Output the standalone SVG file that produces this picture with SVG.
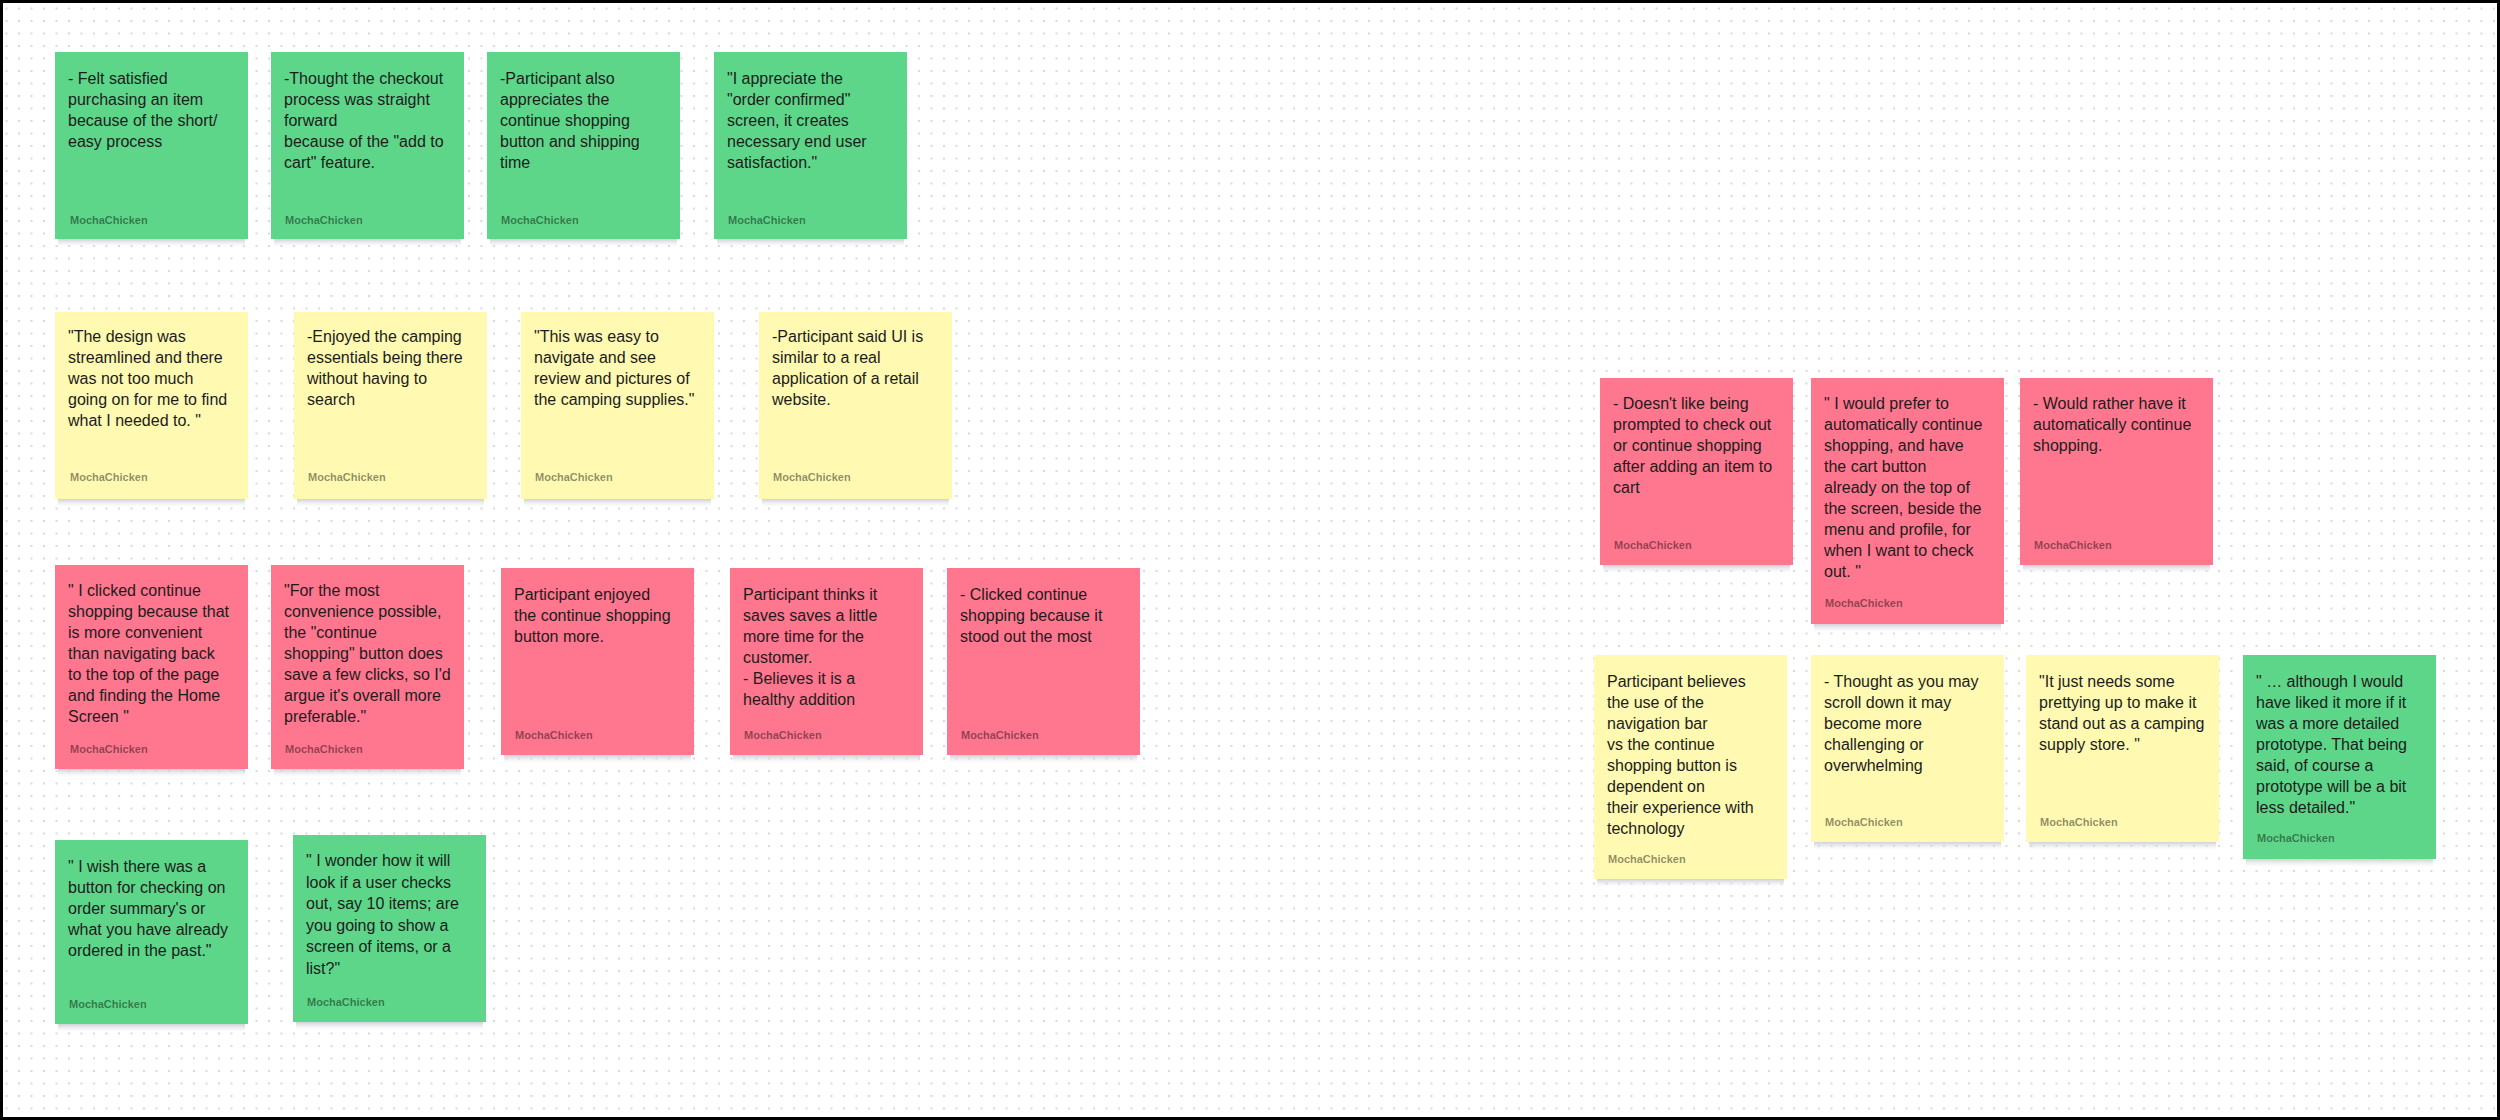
<svg xmlns="http://www.w3.org/2000/svg" width="2500" height="1120" viewBox="0 0 2500 1120">
<defs>
<pattern id="dots" x="5.5" y="7.5" width="12.5" height="12.5" patternUnits="userSpaceOnUse">
<rect x="0" y="0" width="2" height="2" fill="#d5d8df"/>
</pattern>
<linearGradient id="sh" x1="0" y1="0" x2="0" y2="1">
<stop offset="0" stop-color="#c9ccd3" stop-opacity="0.9"/>
<stop offset="1" stop-color="#e9ebef" stop-opacity="0"/>
</linearGradient>
</defs>
<style>
.g{fill:#5dd689}
.y{fill:#fff9b1}
.p{fill:#ff768f}
.sh{fill:url(#sh)}
.t{font-family:"Liberation Sans",Arial,sans-serif;font-size:16px;fill:#1c1c1c}
.l{font-family:"Liberation Sans",Arial,sans-serif;font-size:11px;font-weight:bold;fill:#000;fill-opacity:0.45}
</style>
<rect x="0" y="0" width="2500" height="1120" fill="#ffffff"/>
<rect x="0" y="0" width="2500" height="1120" fill="url(#dots)"/>
<rect x="1.5" y="1.5" width="2497" height="1117" fill="none" stroke="#000" stroke-width="3"/>
<g id="connectors"/>

<g id="n1"><rect class="sh" x="58" y="239" width="187" height="8"/><rect class="g" x="55" y="52" width="193" height="187"/>
<text class="t" x="68" y="84"><tspan x="68">- Felt satisfied</tspan><tspan x="68" dy="21">purchasing an item</tspan><tspan x="68" dy="21">because of the short/</tspan><tspan x="68" dy="21">easy process</tspan></text>
<text class="l" x="70" y="224">MochaChicken</text></g>

<g id="n2"><rect class="sh" x="274" y="239" width="187" height="8"/><rect class="g" x="271" y="52" width="193" height="187"/>
<text class="t" x="284" y="84"><tspan x="284">-Thought the checkout</tspan><tspan x="284" dy="21">process was straight</tspan><tspan x="284" dy="21">forward</tspan><tspan x="284" dy="21">because of the "add to</tspan><tspan x="284" dy="21">cart" feature.</tspan></text>
<text class="l" x="285" y="224">MochaChicken</text></g>

<g id="n3"><rect class="sh" x="490" y="239" width="187" height="8"/><rect class="g" x="487" y="52" width="193" height="187"/>
<text class="t" x="500" y="84"><tspan x="500">-Participant also</tspan><tspan x="500" dy="21">appreciates the</tspan><tspan x="500" dy="21">continue shopping</tspan><tspan x="500" dy="21">button and shipping</tspan><tspan x="500" dy="21">time</tspan></text>
<text class="l" x="501" y="224">MochaChicken</text></g>

<g id="n4"><rect class="sh" x="717" y="239" width="187" height="8"/><rect class="g" x="714" y="52" width="193" height="187"/>
<text class="t" x="727" y="84"><tspan x="727">"I appreciate the</tspan><tspan x="727" dy="21">"order confirmed"</tspan><tspan x="727" dy="21">screen, it creates</tspan><tspan x="727" dy="21">necessary end user</tspan><tspan x="727" dy="21">satisfaction."</tspan></text>
<text class="l" x="728" y="224">MochaChicken</text></g>

<g id="n5"><rect class="sh" x="58" y="499" width="187" height="8"/><rect class="y" x="55" y="312" width="193" height="187"/>
<text class="t" x="68" y="342"><tspan x="68">"The design was</tspan><tspan x="68" dy="21">streamlined and there</tspan><tspan x="68" dy="21">was not too much</tspan><tspan x="68" dy="21">going on for me to find</tspan><tspan x="68" dy="21">what I needed to. "</tspan></text>
<text class="l" x="70" y="481">MochaChicken</text></g>

<g id="n6"><rect class="sh" x="297" y="499" width="187" height="8"/><rect class="y" x="294" y="312" width="193" height="187"/>
<text class="t" x="307" y="342"><tspan x="307">-Enjoyed the camping</tspan><tspan x="307" dy="21">essentials being there</tspan><tspan x="307" dy="21">without having to</tspan><tspan x="307" dy="21">search</tspan></text>
<text class="l" x="308" y="481">MochaChicken</text></g>

<g id="n7"><rect class="sh" x="524" y="499" width="187" height="8"/><rect class="y" x="521" y="312" width="193" height="187"/>
<text class="t" x="534" y="342"><tspan x="534">"This was easy to</tspan><tspan x="534" dy="21">navigate and see</tspan><tspan x="534" dy="21">review and pictures of</tspan><tspan x="534" dy="21">the camping supplies."</tspan></text>
<text class="l" x="535" y="481">MochaChicken</text></g>

<g id="n8"><rect class="sh" x="762" y="499" width="187" height="8"/><rect class="y" x="759" y="312" width="193" height="187"/>
<text class="t" x="772" y="342"><tspan x="772">-Participant said UI is</tspan><tspan x="772" dy="21">similar to a real</tspan><tspan x="772" dy="21">application of a retail</tspan><tspan x="772" dy="21">website.</tspan></text>
<text class="l" x="773" y="481">MochaChicken</text></g>

<g id="n9"><rect class="sh" x="58" y="769" width="187" height="8"/><rect class="p" x="55" y="565" width="193" height="204"/>
<text class="t" x="68" y="596"><tspan x="68">" I clicked continue</tspan><tspan x="68" dy="21">shopping because that</tspan><tspan x="68" dy="21">is more convenient</tspan><tspan x="68" dy="21">than navigating back</tspan><tspan x="68" dy="21">to the top of the page</tspan><tspan x="68" dy="21">and finding the Home</tspan><tspan x="68" dy="21">Screen "</tspan></text>
<text class="l" x="70" y="753">MochaChicken</text></g>

<g id="n10"><rect class="sh" x="274" y="769" width="187" height="8"/><rect class="p" x="271" y="565" width="193" height="204"/>
<text class="t" x="284" y="596"><tspan x="284">"For the most</tspan><tspan x="284" dy="21">convenience possible,</tspan><tspan x="284" dy="21">the "continue</tspan><tspan x="284" dy="21">shopping" button does</tspan><tspan x="284" dy="21">save a few clicks, so I'd</tspan><tspan x="284" dy="21">argue it's overall more</tspan><tspan x="284" dy="21">preferable."</tspan></text>
<text class="l" x="285" y="753">MochaChicken</text></g>

<g id="n11"><rect class="sh" x="504" y="755" width="187" height="8"/><rect class="p" x="501" y="568" width="193" height="187"/>
<text class="t" x="514" y="600"><tspan x="514">Participant enjoyed</tspan><tspan x="514" dy="21">the continue shopping</tspan><tspan x="514" dy="21">button more.</tspan></text>
<text class="l" x="515" y="739">MochaChicken</text></g>

<g id="n12"><rect class="sh" x="733" y="755" width="187" height="8"/><rect class="p" x="730" y="568" width="193" height="187"/>
<text class="t" x="743" y="600"><tspan x="743">Participant thinks it</tspan><tspan x="743" dy="21">saves saves a little</tspan><tspan x="743" dy="21">more time for the</tspan><tspan x="743" dy="21">customer.</tspan><tspan x="743" dy="21">- Believes it is a</tspan><tspan x="743" dy="21">healthy addition</tspan></text>
<text class="l" x="744" y="739">MochaChicken</text></g>

<g id="n13"><rect class="sh" x="950" y="755" width="187" height="8"/><rect class="p" x="947" y="568" width="193" height="187"/>
<text class="t" x="960" y="600"><tspan x="960">- Clicked continue</tspan><tspan x="960" dy="21">shopping because it</tspan><tspan x="960" dy="21">stood out the most</tspan></text>
<text class="l" x="961" y="739">MochaChicken</text></g>

<g id="n14"><rect class="sh" x="58" y="1024" width="187" height="8"/><rect class="g" x="55" y="840" width="193" height="184"/>
<text class="t" x="68" y="872"><tspan x="68">" I wish there was a</tspan><tspan x="68" dy="21">button for checking on</tspan><tspan x="68" dy="21">order summary's or</tspan><tspan x="68" dy="21">what you have already</tspan><tspan x="68" dy="21">ordered in the past."</tspan></text>
<text class="l" x="69" y="1008">MochaChicken</text></g>

<g id="n15"><rect class="sh" x="296" y="1022" width="187" height="8"/><rect class="g" x="293" y="835" width="193" height="187"/>
<text class="t" x="306" y="866"><tspan x="306">" I wonder how it will</tspan><tspan x="306" dy="21.5">look if a user checks</tspan><tspan x="306" dy="21.5">out, say 10 items; are</tspan><tspan x="306" dy="21.5">you going to show a</tspan><tspan x="306" dy="21.5">screen of items, or a</tspan><tspan x="306" dy="21.5">list?"</tspan></text>
<text class="l" x="307" y="1006">MochaChicken</text></g>

<g id="r1"><rect class="sh" x="1603" y="565" width="187" height="8"/><rect class="p" x="1600" y="378" width="193" height="187"/>
<text class="t" x="1613" y="409"><tspan x="1613">- Doesn't like being</tspan><tspan x="1613" dy="21">prompted to check out</tspan><tspan x="1613" dy="21">or continue shopping</tspan><tspan x="1613" dy="21">after adding an item to</tspan><tspan x="1613" dy="21">cart</tspan></text>
<text class="l" x="1614" y="549">MochaChicken</text></g>

<g id="r2"><rect class="sh" x="1814" y="624" width="187" height="8"/><rect class="p" x="1811" y="378" width="193" height="246"/>
<text class="t" x="1824" y="409"><tspan x="1824">" I would prefer to</tspan><tspan x="1824" dy="21">automatically continue</tspan><tspan x="1824" dy="21">shopping, and have</tspan><tspan x="1824" dy="21">the cart button</tspan><tspan x="1824" dy="21">already on the top of</tspan><tspan x="1824" dy="21">the screen, beside the</tspan><tspan x="1824" dy="21">menu and profile, for</tspan><tspan x="1824" dy="21">when I want to check</tspan><tspan x="1824" dy="21">out. "</tspan></text>
<text class="l" x="1825" y="607">MochaChicken</text></g>

<g id="r3"><rect class="sh" x="2023" y="565" width="187" height="8"/><rect class="p" x="2020" y="378" width="193" height="187"/>
<text class="t" x="2033" y="409"><tspan x="2033">- Would rather have it</tspan><tspan x="2033" dy="21">automatically continue</tspan><tspan x="2033" dy="21">shopping.</tspan></text>
<text class="l" x="2034" y="549">MochaChicken</text></g>

<g id="y1"><rect class="sh" x="1597" y="879" width="187" height="8"/><rect class="y" x="1594" y="655" width="193" height="224"/>
<text class="t" x="1607" y="687"><tspan x="1607">Participant believes</tspan><tspan x="1607" dy="21">the use of the</tspan><tspan x="1607" dy="21">navigation bar</tspan><tspan x="1607" dy="21">vs the continue</tspan><tspan x="1607" dy="21">shopping button is</tspan><tspan x="1607" dy="21">dependent on</tspan><tspan x="1607" dy="21">their experience with</tspan><tspan x="1607" dy="21">technology</tspan></text>
<text class="l" x="1608" y="863">MochaChicken</text></g>

<g id="y2"><rect class="sh" x="1814" y="842" width="187" height="8"/><rect class="y" x="1811" y="655" width="193" height="187"/>
<text class="t" x="1824" y="687"><tspan x="1824">- Thought as you may</tspan><tspan x="1824" dy="21">scroll down it may</tspan><tspan x="1824" dy="21">become more</tspan><tspan x="1824" dy="21">challenging or</tspan><tspan x="1824" dy="21">overwhelming</tspan></text>
<text class="l" x="1825" y="826">MochaChicken</text></g>

<g id="y3"><rect class="sh" x="2029" y="842" width="187" height="8"/><rect class="y" x="2026" y="655" width="193" height="187"/>
<text class="t" x="2039" y="687"><tspan x="2039">"It just needs some</tspan><tspan x="2039" dy="21">prettying up to make it</tspan><tspan x="2039" dy="21">stand out as a camping</tspan><tspan x="2039" dy="21">supply store. "</tspan></text>
<text class="l" x="2040" y="826">MochaChicken</text></g>

<g id="g1"><rect class="sh" x="2246" y="859" width="187" height="8"/><rect class="g" x="2243" y="655" width="193" height="204"/>
<text class="t" x="2256" y="687"><tspan x="2256">" …  although I would</tspan><tspan x="2256" dy="21">have liked it more if it</tspan><tspan x="2256" dy="21">was a more detailed</tspan><tspan x="2256" dy="21">prototype. That being</tspan><tspan x="2256" dy="21">said, of course a</tspan><tspan x="2256" dy="21">prototype will be a bit</tspan><tspan x="2256" dy="21">less detailed."</tspan></text>
<text class="l" x="2257" y="842">MochaChicken</text></g>
</svg>
